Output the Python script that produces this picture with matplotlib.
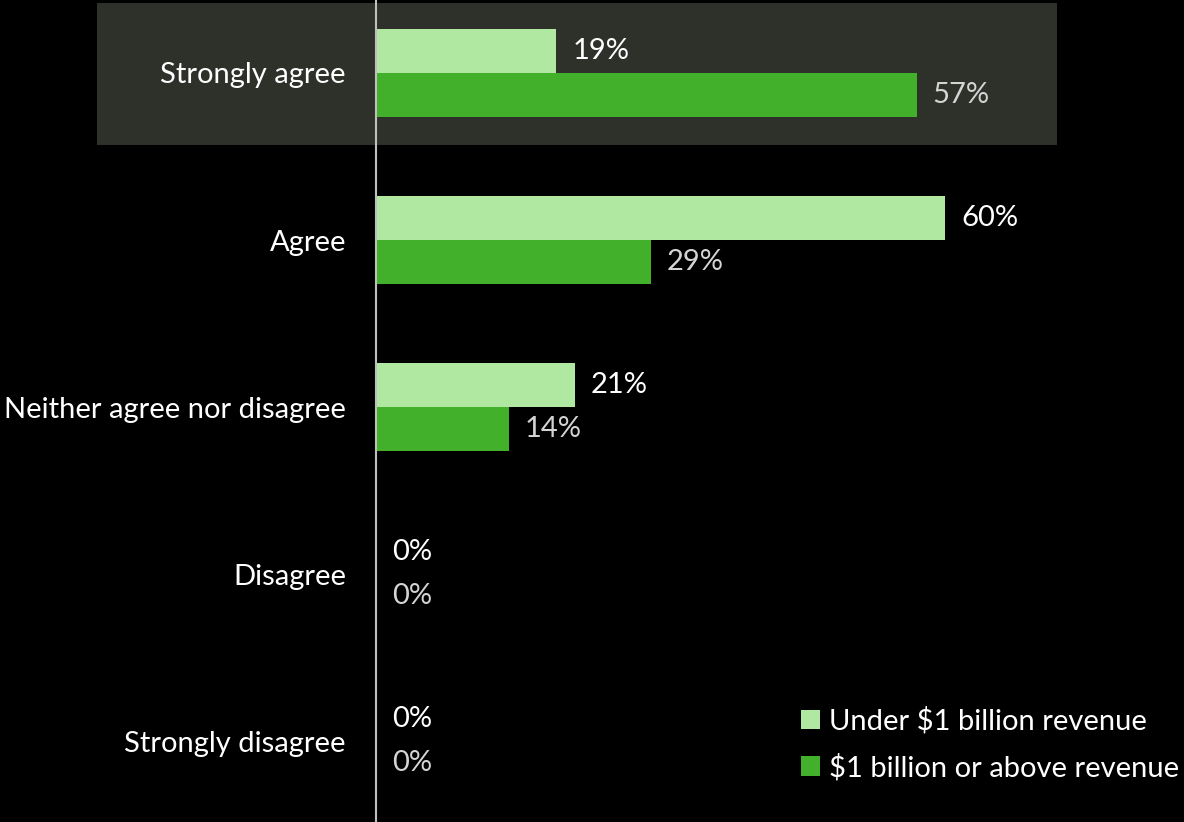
import matplotlib
matplotlib.use("Agg")
import matplotlib.pyplot as plt
from matplotlib.patches import Rectangle
import numpy as np

plt.rcParams.update({
    "font.family": ["Lato", "DejaVu Sans"],
    "font.size": 21,
})

categories = ["Strongly agree", "Agree", "Neither agree nor disagree",
              "Disagree", "Strongly disagree"]
under_1b = [19, 60, 21, 0, 0]
over_1b = [57, 29, 14, 0, 0]
series_names = ["Under $1 billion revenue", "$1 billion or above revenue"]

LIGHT = "#b0e8a2"
DARK = "#42b02a"
BG = "#000000"
HILITE = "#2e302a"
FS = 21

W, H = 1184, 822
fig = plt.figure(figsize=(W / 100, H / 100), dpi=100, facecolor=BG)
ax = fig.add_axes([376 / W, 0, (W - 376) / W, 1])
ax.set_facecolor("none")
ax.set_zorder(2)

y = np.arange(len(categories))
bh = 0.263
b1 = ax.barh(y - bh / 2, under_1b, height=bh, color=LIGHT, label=series_names[0])
b2 = ax.barh(y + bh / 2, over_1b, height=bh, color=DARK, label=series_names[1])

ax.set_xlim(0, (W - 376) / 9.483)
ax.set_ylim(4 + (822 - 741) / 167, -73 / 167)

# highlight band behind "Strongly agree"
fig.patches.append(Rectangle((97 / W, 1 - 145 / H), (1057 - 97) / W, 142 / H,
                             transform=fig.transFigure, facecolor=HILITE,
                             edgecolor="none", zorder=-1))

for bars, col in ((b1, "white"), (b2, "#d4d4d4")):
    for rect in bars:
        v = rect.get_width()
        ax.annotate(f"{v:.0f}%", (v, rect.get_y() + rect.get_height() / 2),
                    xytext=(11.5, 0), textcoords="offset points",
                    ha="left", va="center", color=col, fontsize=FS)

ax.set_yticks(y)
ax.set_yticklabels(categories, color="white", fontsize=FS)
ax.tick_params(axis="y", length=0, pad=21.6)
ax.set_xticks([])
for s in ("top", "right", "bottom"):
    ax.spines[s].set_visible(False)
ax.spines["left"].set_color("#bfbfbf")
ax.spines["left"].set_linewidth(1.5)

leg = fig.legend(loc="lower right", bbox_to_anchor=(1.008, 0.032), frameon=False,
                 handlelength=0.65, handleheight=0.65, handletextpad=0.3,
                 labelspacing=0.65, fontsize=FS, borderaxespad=0.1)
for t in leg.get_texts():
    t.set_color("white")

fig.savefig("out.png", dpi=100, facecolor=BG)
